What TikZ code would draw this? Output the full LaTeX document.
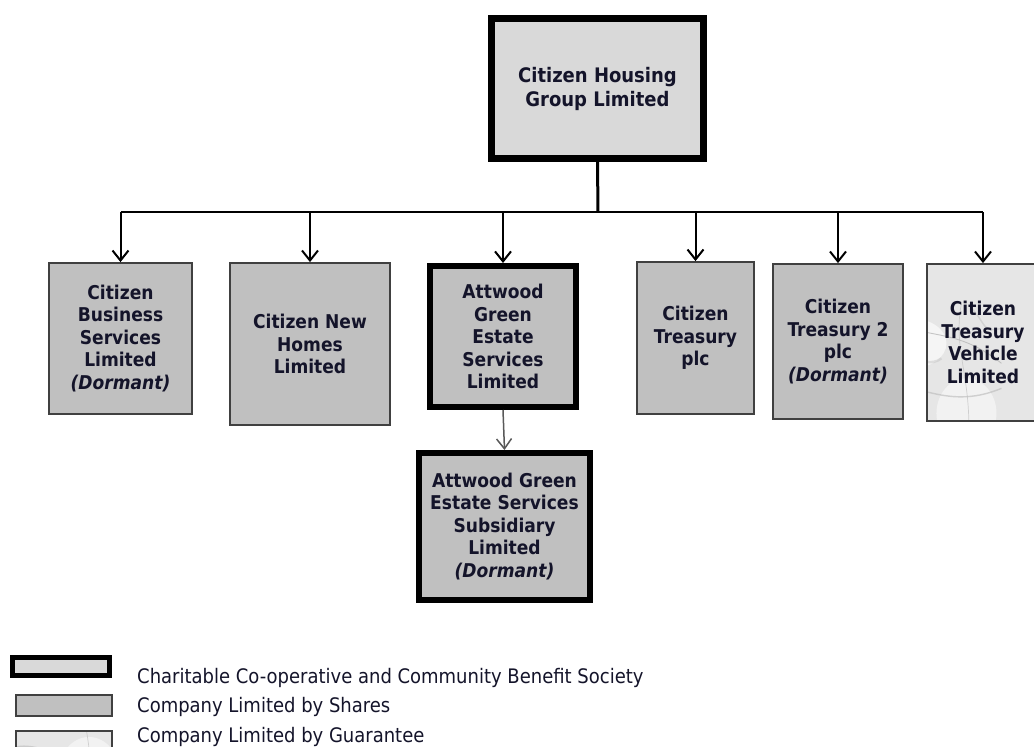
\documentclass[tikz,border=0pt]{standalone}
\usepackage{fontspec}
\setmainfont{DejaVu Sans Condensed}
\usetikzlibrary{arrows.meta}
\definecolor{boxgray}{HTML}{C0C0C0}
\definecolor{lightgray2}{HTML}{D9D9D9}
\definecolor{txt}{HTML}{14142A}
\definecolor{marble}{HTML}{E6E6E6}
\begin{document}
\begin{tikzpicture}[x=1pt,y=-1pt,
  box/.style={draw=black!75, line width=1.8pt, fill=boxgray, align=center,
    font=\bfseries\fontsize{19}{22.5}\selectfont, inner sep=0pt, text=txt},
  society/.style={box, draw=black, line width=6pt},
  marblefill/.style={fill=marble, path picture={
    \begin{scope}[shift={(path picture bounding box.center)}]
      \fill[white, opacity=0.6] (-30,-40) ellipse (35pt and 25pt);
      \fill[white, opacity=0.5] (25,30) ellipse (30pt and 35pt);
      \draw[gray!60, line width=0.9pt, opacity=0.7] (-60,-70) .. controls (-20,-40) and (10,-60) .. (60,-20);
      \draw[gray!55, line width=1.4pt, opacity=0.6] (-60,10) .. controls (-30,-10) and (0,30) .. (60,5);
      \draw[gray!50, line width=0.8pt, opacity=0.6] (-40,80) .. controls (-10,40) and (20,60) .. (60,40);
      \draw[gray!55, line width=0.7pt, opacity=0.6] (20,-80) .. controls (10,-30) and (35,0) .. (25,80);
      \draw[gray!45, line width=2.5pt, opacity=0.5] (-60,-30) .. controls (-40,-45) and (-20,-10) .. (0,-25);
      \draw[gray!45, line width=2pt, opacity=0.5] (-55,50) .. controls (-35,60) and (-20,35) .. (5,55);
      \draw[gray!50, line width=1.5pt, opacity=0.5] (30,-75) .. controls (45,-60) and (40,-50) .. (60,-55);
    \end{scope}}},
  arr/.style={line width=2pt, -{Straight Barb[length=10pt,width=16pt,line width=2pt]}},
  legtext/.style={anchor=west, inner sep=0pt, text=txt, font=\fontsize{20}{24}\selectfont}
]
\useasboundingbox (0,0) rectangle (1034,747);

% main boxes
\node[society, fill=lightgray2, line width=7pt, minimum width=212pt, minimum height=140pt,
  font=\bfseries\fontsize{20}{24}\selectfont] (top) at (597.5,88.5)
  {Citizen Housing\\Group Limited};
\node[box, minimum width=143pt, minimum height=151pt] (b1) at (120.5,338.5)
  {Citizen\\Business\\Services\\Limited\\\textit{(Dormant)}};
\node[box, minimum width=160pt, minimum height=162pt] (b2) at (310,344)
  {Citizen New\\Homes\\Limited};
\node[society, minimum width=146pt, minimum height=141pt] (b3) at (503,336.5)
  {Attwood\\Green\\Estate\\Services\\Limited};
\node[box, minimum width=117pt, minimum height=152pt] (b4) at (695.5,338)
  {Citizen\\Treasury\\plc};
\node[box, minimum width=130pt, minimum height=155pt] (b5) at (838,341.5)
  {Citizen\\Treasury 2\\plc\\\textit{(Dormant)}};
\node[box, marblefill, minimum width=112pt, minimum height=157pt] (b6) at (983,342.5)
  {Citizen\\Treasury\\Vehicle\\Limited};
\node[society, minimum width=171pt, minimum height=147pt] (sub) at (504.5,526.5)
  {Attwood Green\\Estate Services\\Subsidiary\\Limited\\\textit{(Dormant)}};

% connectors
\coordinate (hl) at (598,212);
\draw[line width=3pt] (top.south) -- (hl);
\draw[line width=2.4pt] (hl -| b1.north) -- (hl -| b6.north);
\foreach \b in {b1,b2,b3,b4,b5,b6}
  \draw[arr] (hl -| \b.north) -- (\b.north);
\draw[line width=1.5pt, black!65, -{Straight Barb[length=10pt,width=15pt,line width=1.5pt]}] (b3.south) -- (sub.north);

% legend
\node[society, fill=lightgray2, line width=5pt, minimum width=97pt, minimum height=18pt] (l1) at (61,666.5) {};
\node[box, minimum width=96pt, minimum height=21pt] (l2) at (64,705.5) {};
\node[box, marblefill, minimum width=96pt, minimum height=22pt] (l3) at (64,742) {};
\node[legtext] (t1) at (137,678) {Charitable Co-operative and Community Benefit Society};
\node[legtext] (t2) at (137,707) {Company Limited by Shares};
\node[legtext] (t3) at (137,737) {Company Limited by Guarantee};
\end{tikzpicture}
\end{document}
